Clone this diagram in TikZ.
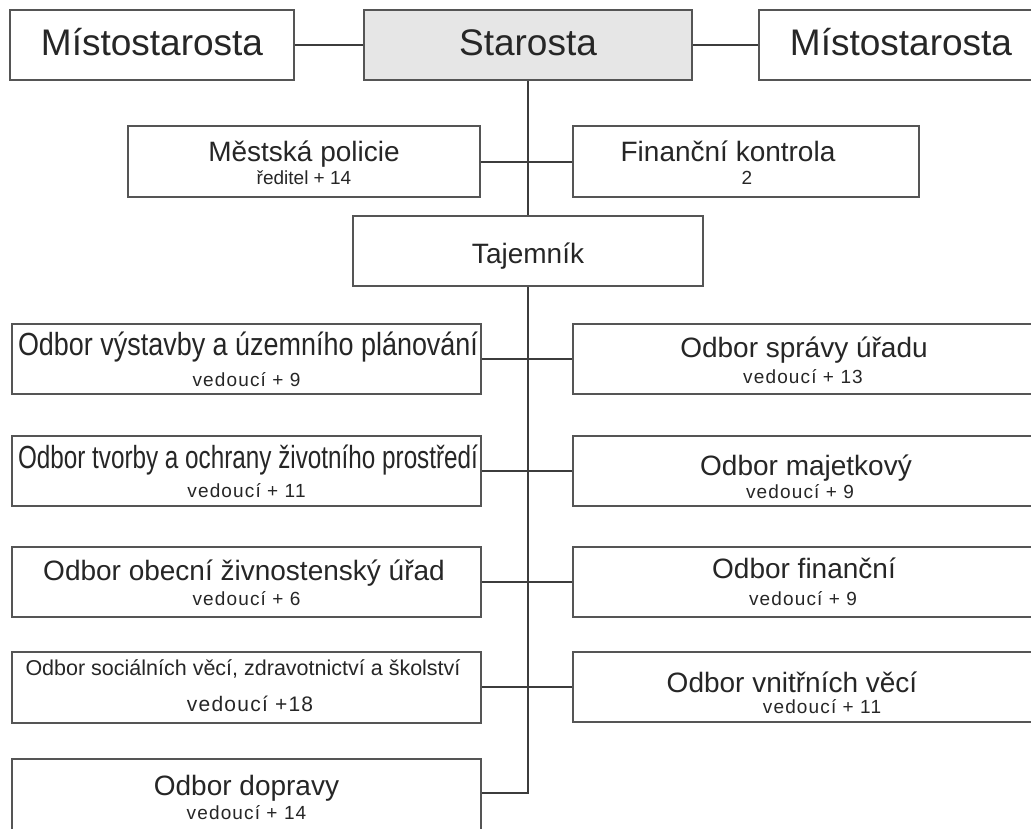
\documentclass[tikz,border=0pt]{standalone}
\usepackage{fontspec}
\setmainfont{Liberation Sans}
\newfontfamily\spacedfont[LetterSpace=6]{Liberation Sans}
\newcommand\setfsz[1]{\fontsize{#1}{#1}\selectfont}
\definecolor{ink}{HTML}{262626}
\definecolor{frame}{HTML}{555555}
\definecolor{linec}{HTML}{3C3C3C}
\definecolor{boss}{HTML}{E6E6E6}
\begin{document}
\begin{tikzpicture}[x=1pt,y=-1pt,
  box/.style={draw=frame, line width=2pt, fill=white, minimum width=#1, minimum height=70pt, inner sep=0pt},
  conn/.style={draw=linec, line width=1.6pt},
  txt/.style={anchor=base, text=ink, inner sep=0pt},
  big/.style={txt, font=\setfsz{37}},
  title/.style={txt, font=\setfsz{28}},
  sub/.style={txt, font=\spacedfont\setfsz{19}},
  subp/.style={txt, font=\setfsz{19}}]
\useasboundingbox (0,0) rectangle (1031,829);
\clip (0,0) rectangle (1031,829);
\fill[white] (0,0) rectangle (1031,829);

% top row
\node[box=284pt] (mL) at (152,45) {};
\node[big] (mLt) at (152,56) {Místostarosta};
\node[box=328pt, fill=boss] (st) at (528,45) {};
\node[big] (stt) at (528,56) {Starosta};
\node[box=284pt] (mR) at (901,45) {};
\node[big] (mRt) at (901,56) {Místostarosta};
\draw[conn] (mL.east) -- (st.west);
\draw[conn] (st.east) -- (mR.west);

% second row
\node[box=352pt, minimum height=71pt] (mp) at (304,162) {};
\node[title] (mpt) at (304,162) {Městská policie};
\node[subp] (mps) at (304,185) {ředitel + 14};
\node[box=346pt, minimum height=71pt] (fk) at (746,162) {};
\node[title] (fkt) at (728,162) {Finanční kontrola};
\node[subp] (fks) at (747,185) {2};

% Tajemnik
\node[box=350pt] (taj) at (528,251) {};
\node[title] (tajt) at (528,263) {Tajemník};

\draw[conn] (st.south) -- (taj.north);
\draw[conn] (mp.east) -- (fk.west);

% left departments
\node[box=469pt] (vys) at (246.5,359) {};
\node[txt] (vyst) at (248,355) {\resizebox{460pt}{\height}{\setfsz{32}Odbor výstavby a územního plánování}};
\node[sub] (vyss) at (246.5,386) {vedoucí + 9};

\node[box=469pt] (tvo) at (246.5,471) {};
\node[txt] (tvot) at (248,468) {\resizebox{460pt}{\height}{\setfsz{32}Odbor tvorby a ochrany životního prostředí}};
\node[sub] (tvos) at (246.5,497) {vedoucí + 11};

\node[box=469pt] (obe) at (246.5,582) {};
\node[title] (obet) at (244,580) {Odbor obecní živnostenský úřad};
\node[sub] (obes) at (246.5,605) {vedoucí + 6};

\node[box=469pt, minimum height=71pt] (soc) at (246.5,687) {};
\node[txt, font=\setfsz{21.5}] (soct) at (243,675) {Odbor sociálních věcí, zdravotnictví a školství};
\node[txt, font=\spacedfont\setfsz{21}] (socs) at (250,711) {vedoucí +18};

\node[box=469pt, minimum height=100pt] (dop) at (246.5,809) {};
\node[title] (dopt) at (246.5,795) {Odbor dopravy};
\node[sub] (dops) at (246.5,819) {vedoucí + 14};

% right departments
\node[box=469pt] (spr) at (807.5,359) {};
\node[title] (sprt) at (804,357) {Odbor správy úřadu};
\node[sub] (sprs) at (803,383) {vedoucí + 13};

\node[box=469pt] (maj) at (807.5,471) {};
\node[title] (majt) at (806,475) {Odbor majetkový};
\node[sub] (majs) at (800,498) {vedoucí + 9};

\node[box=469pt] (fin) at (807.5,582) {};
\node[title] (fint) at (804,578) {Odbor finanční};
\node[sub] (fins) at (803,605) {vedoucí + 9};

\node[box=469pt] (vni) at (807.5,687) {};
\node[title] (vnit) at (792,692) {Odbor vnitřních věcí};
\node[sub] (vnis) at (822,713) {vedoucí + 11};

% trunk and branches
\coordinate (bend) at (528,793);
\draw[conn] (taj.south) -- (bend) -- (bend -| dop.east);
\draw[conn] (vys.east) -- (vys.east -| spr.west);
\draw[conn] (tvo.east) -- (tvo.east -| maj.west);
\draw[conn] (obe.east) -- (obe.east -| fin.west);
\draw[conn] (soc.east) -- (soc.east -| vni.west);
\end{tikzpicture}
\end{document}
